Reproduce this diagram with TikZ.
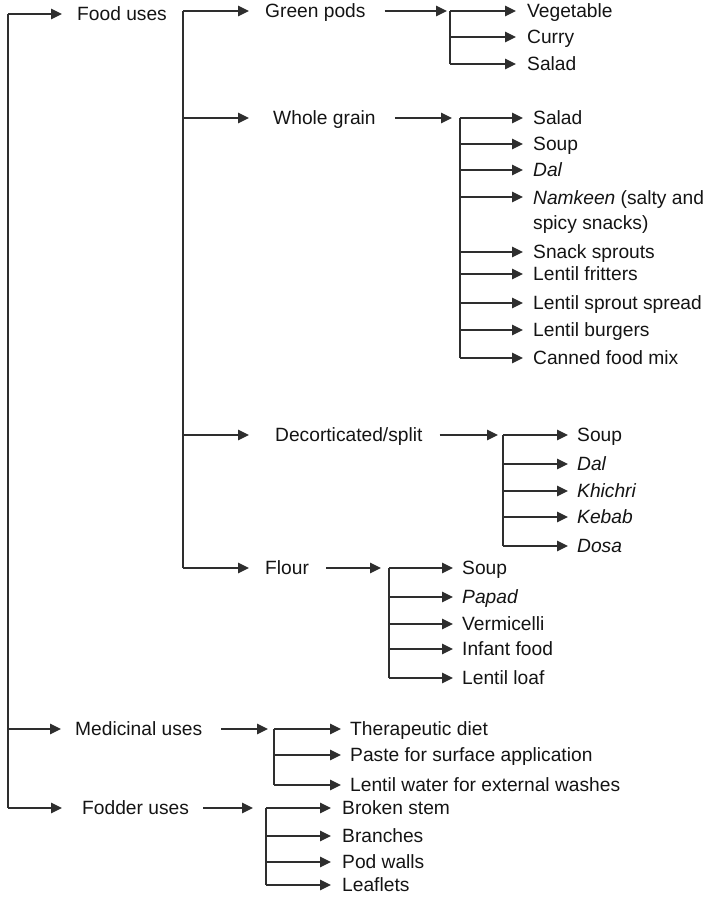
\documentclass[tikz,border=0pt]{standalone}
\usepackage{fontspec}
\setmainfont{Liberation Sans}
\usetikzlibrary{arrows.meta}
\begin{document}
\begin{tikzpicture}[x=1pt,y=-1pt,
  txt/.style={font=\fontsize{19.2}{25}\selectfont, text=black!92, inner sep=0pt},
  lbl/.style={txt, anchor=west, text height=13.6pt, text depth=0pt},
  line/.style={draw=black!82, line width=1.5pt},
  arr/.style={line, -{Triangle[length=11pt,width=10.5pt]}},
]
\useasboundingbox (0,0) rectangle (708,901);

% ---- top level: the three kinds of use ----
\coordinate (r0) at (8,14);
\node[lbl] (food) at (77,14) {Food uses};
\node[lbl] (med) at (75,729) {Medicinal uses};
\node[lbl] (fod) at (82,808) {Fodder uses};
\draw[line] (r0) -- (r0 |- fod.west);
\draw[arr, shorten >=15pt] (r0) -- (food.west);
\draw[arr, shorten >=14pt] (r0 |- med.west) -- (med.west);
\draw[arr, shorten >=20pt] (r0 |- fod.west) -- (fod.west);

% ---- food uses ----
\coordinate (f0) at (183,11);
\node[lbl] (gp) at (265,11) {Green pods};
\node[lbl] (wg) at (273,118) {Whole grain};
\node[lbl] (ds) at (275,435) {Decorticated/split};
\node[lbl] (fl) at (265,568) {Flour};
\draw[line] (f0) -- (f0 |- fl.west);
\draw[arr, shorten >=16pt] (f0) -- (gp.west);
\draw[arr, shorten >=24pt] (f0 |- wg.west) -- (wg.west);
\draw[arr, shorten >=26pt] (f0 |- ds.west) -- (ds.west);
\draw[arr, shorten >=16pt] (f0 |- fl.west) -- (fl.west);

% green pods
\coordinate (gj) at (450,11);
\draw[arr, shorten <=19pt, shorten >=3pt] (gp.east) -- (gj);
\node[lbl] (veg) at (527,11) {Vegetable};
\node[lbl] (cur) at (527,37) {Curry};
\node[lbl] (gsal) at (527,64) {Salad};
\draw[line] (gj) -- (gj |- gsal.west);
\foreach \n in {veg,cur,gsal} \draw[arr, shorten >=11pt] (gj |- \n.west) -- (\n.west);

% whole grain
\coordinate (wj) at (460,118);
\draw[arr, shorten <=19pt, shorten >=8pt] (wg.east) -- (wj);
\node[lbl] (wsal) at (533,118) {Salad};
\node[lbl] (wsou) at (533,144) {Soup};
\node[lbl] (wdal) at (533,170) {\textit{Dal}};
\node[txt, anchor=north west, align=left] (nam) at (533,190) {\textit{Namkeen} (salty and\\spicy snacks)};
\coordinate (namin) at ([yshift=-7pt]nam.north west);
\node[lbl] (spr) at (533,252) {Snack sprouts};
\node[lbl] (frit) at (533,274) {Lentil fritters};
\node[lbl] (sprd) at (533,303) {Lentil sprout spread};
\node[lbl] (burg) at (533,330) {Lentil burgers};
\node[lbl] (can) at (533,358) {Canned food mix};
\draw[line] (wj) -- (wj |- can.west);
\foreach \n in {wsal,wsou,wdal,namin,spr,frit,sprd,burg,can} \draw[arr, shorten >=10pt] (wj |- \n.west) -- (\n.west);

% decorticated / split
\coordinate (dj) at (503,435);
\draw[arr, shorten <=17pt, shorten >=5pt] (ds.east) -- (dj);
\node[lbl] (dsou) at (577,435) {Soup};
\node[lbl] (ddal) at (577,464) {\textit{Dal}};
\node[lbl] (khi) at (577,491) {\textit{Khichri}};
\node[lbl] (keb) at (577,517) {\textit{Kebab}};
\node[lbl] (dosa) at (577,546) {\textit{Dosa}};
\draw[line] (dj) -- (dj |- dosa.west);
\foreach \n in {dsou,ddal,khi,keb,dosa} \draw[arr, shorten >=9pt] (dj |- \n.west) -- (\n.west);

% flour
\coordinate (lj) at (389,568);
\draw[arr, shorten <=17pt, shorten >=8pt] (fl.east) -- (lj);
\node[lbl] (fsou) at (462,568) {Soup};
\node[lbl] (pap) at (462,597) {\textit{Papad}};
\node[lbl] (ver) at (462,624) {Vermicelli};
\node[lbl] (inf) at (462,649) {Infant food};
\node[lbl] (loaf) at (462,678) {Lentil loaf};
\draw[line] (lj) -- (lj |- loaf.west);
\foreach \n in {fsou,pap,ver,inf,loaf} \draw[arr, shorten >=9pt] (lj |- \n.west) -- (\n.west);

% ---- medicinal uses ----
\coordinate (mj) at (274,729);
\draw[arr, shorten <=19pt, shorten >=6pt] (med.east) -- (mj);
\node[lbl] (ther) at (350,729) {Therapeutic diet};
\node[lbl] (paste) at (350,755) {Paste for surface application};
\node[lbl] (wash) at (350,785) {Lentil water for external washes};
\draw[line] (mj) -- (mj |- wash.west);
\foreach \n in {ther,paste,wash} \draw[arr, shorten >=9pt] (mj |- \n.west) -- (\n.west);

% ---- fodder uses ----
\coordinate (oj) at (266,808);
\draw[arr, shorten <=14pt, shorten >=13pt] (fod.east) -- (oj);
\node[lbl] (stem) at (342,808) {Broken stem};
\node[lbl] (bra) at (342,836) {Branches};
\node[lbl] (pod) at (342,862) {Pod walls};
\node[lbl] (lfl) at (342,885) {Leaflets};
\draw[line] (oj) -- (oj |- lfl.west);
\foreach \n in {stem,bra,pod,lfl} \draw[arr, shorten >=11pt] (oj |- \n.west) -- (\n.west);
\end{tikzpicture}
\end{document}
